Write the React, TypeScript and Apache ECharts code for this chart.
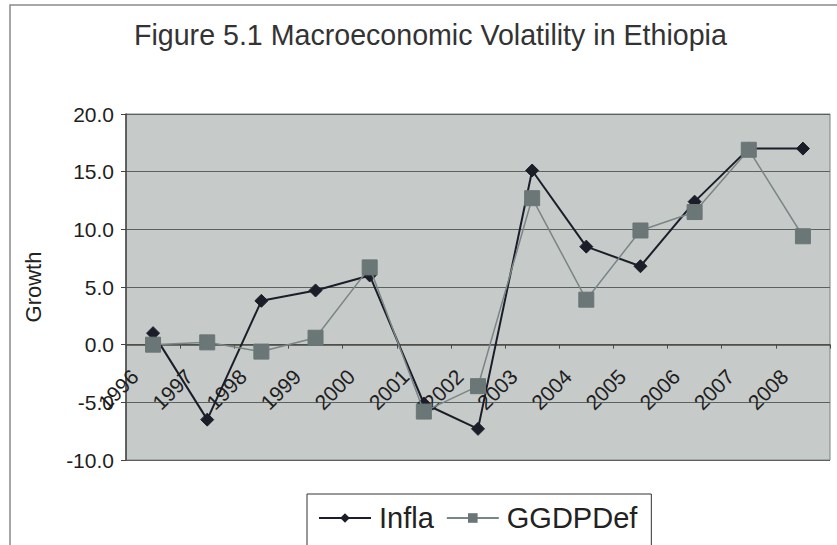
import React, { useEffect, useRef } from "react";
import * as echarts from "echarts";

const years = ["1996", "1997", "1998", "1999", "2000", "2001", "2002", "2003", "2004", "2005", "2006", "2007", "2008"];
const infla = [1.0, -6.5, 3.8, 4.7, 6.0, -5.1, -7.3, 15.1, 8.5, 6.8, 12.4, 17.0, 17.0];
const ggdpDef = [0.0, 0.2, -0.6, 0.6, 6.7, -5.8, -3.6, 12.7, 3.9, 9.9, 11.5, 16.9, 9.4];
const titleText = "Figure 5.1 Macroeconomic Volatility in Ethiopia";
const yAxisName = "Growth";
const yMin = -10;
const yMax = 20;

const FONT = "'Liberation Sans', Arial, Helvetica, sans-serif";
const GRID_TOP = 114;
const GRID_BOTTOM = 85;
const CHART_H = 545;

export default function App() {
  const ref = useRef<HTMLDivElement>(null);
  useEffect(() => {
    if (!ref.current) return;
    const chart = echarts.init(ref.current, null, { renderer: "svg" });
    const plotH = CHART_H - GRID_TOP - GRID_BOTTOM;
    // distance from bottom of plot to zero line, so the category axis sits on y = 0
    const zeroFromBottom = (plotH * (0 - yMin)) / (yMax - yMin);
    chart.setOption({
      animation: false,
      backgroundColor: "#ffffff",
      textStyle: { fontFamily: FONT },
      title: {
        text: titleText,
        left: 129,
        top: 15,
        textStyle: { fontFamily: FONT, fontSize: 28.6, fontWeight: "normal", color: "#333333" },
      },
      graphic: [
        {
          type: "rect",
          shape: { x: 10, y: 5, width: 900, height: 700 },
          style: { fill: "none", stroke: "#8a8a8a", lineWidth: 1.5 },
          silent: true,
          z: -1,
        },
      ],
      legend: {
        left: 307,
        top: 494,
        orient: "horizontal",
        padding: [8, 14, 30, 11],
        borderColor: "#333333",
        borderWidth: 1,
        backgroundColor: "#ffffff",
        itemWidth: 52,
        itemHeight: 12,
        itemGap: 12,
        textStyle: { fontFamily: FONT, fontSize: 29, color: "#222222", lineHeight: 32, padding: [0, 0, 0, 3] },
        data: ["Infla", "GGDPDef"],
      },
      grid: {
        left: 126,
        top: GRID_TOP,
        right: 7,
        bottom: GRID_BOTTOM,
        show: true,
        backgroundColor: "#c6cac9",
        borderColor: "#7d8282",
        borderWidth: 1,
        containLabel: false,
      },
      xAxis: {
        type: "category",
        data: years,
        boundaryGap: true,
        offset: -zeroFromBottom,
        axisLine: { show: true, onZero: false, lineStyle: { color: "#4e4a44", width: 1.5 } },
        axisTick: { show: true, length: 4, inside: false, lineStyle: { color: "#4e4a44" } },
        axisLabel: {
          interval: 0,
          rotate: 45,
          margin: 10,
          padding: [0, 26, 0, 0],
          fontSize: 21,
          fontFamily: FONT,
          color: "#1e1e1e",
        },
        splitLine: { show: false },
      },
      yAxis: {
        type: "value",
        min: yMin,
        max: yMax,
        interval: 5,
        name: yAxisName,
        nameLocation: "middle",
        nameGap: 82,
        nameTextStyle: { fontFamily: FONT, fontSize: 22, color: "#222222" },
        axisLine: { show: true, lineStyle: { color: "#444444", width: 1.5 } },
        axisTick: { show: true, length: 5, lineStyle: { color: "#444444" } },
        axisLabel: {
          margin: 12,
          fontSize: 21,
          fontFamily: FONT,
          color: "#1e1e1e",
          formatter: (v: number) => v.toFixed(1),
        },
        splitLine: { show: true, lineStyle: { color: "#59625f", width: 1 } },
      },
      series: [
        {
          name: "Infla",
          type: "line",
          data: infla,
          symbol: "diamond",
          symbolSize: 13,
          lineStyle: { color: "#1b1e28", width: 2 },
          itemStyle: { color: "#1b1e28", borderColor: "#1b1e28" },
          z: 3,
        },
        {
          name: "GGDPDef",
          type: "line",
          data: ggdpDef,
          symbol: "rect",
          symbolSize: 15,
          lineStyle: { color: "#7a8585", width: 1.5 },
          itemStyle: { color: "#6b7676", borderColor: "#6b7676" },
          z: 4,
        },
      ],
    });
    return () => chart.dispose();
  }, []);
  return <div ref={ref} style={{ position: "absolute", left: 0, top: 0, width: 837, height: 545 }} />;
}
